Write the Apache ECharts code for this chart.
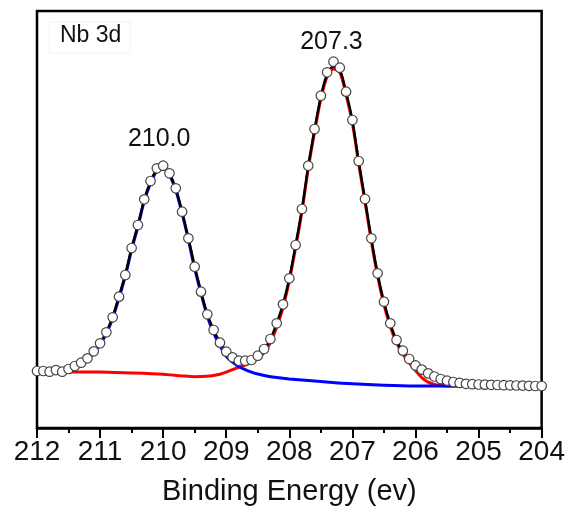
<!DOCTYPE html>
<html>
<head>
<meta charset="utf-8">
<script src="https://cdn.jsdelivr.net/npm/echarts@6/dist/echarts.min.js"></script>
<style>
  html, body { margin: 0; padding: 0; background: #fff; }
  #chart { width: 568px; height: 512px; }
</style>
</head>
<body>
<div id="chart"></div>
<script>
// 测量点 (结合能 eV / 强度)
let energy = [212.0, 211.9, 211.8, 211.7, 211.6, 211.5, 211.4, 211.3, 211.2, 211.1,
    211.0, 210.9, 210.8, 210.7, 210.6, 210.5, 210.4, 210.3, 210.2, 210.1,
    210.0, 209.9, 209.8, 209.7, 209.6, 209.5, 209.4, 209.3, 209.2, 209.1,
    209.0, 208.9, 208.8, 208.7, 208.6, 208.5, 208.4, 208.3, 208.2, 208.1,
    208.0, 207.9, 207.8, 207.7, 207.6, 207.5, 207.4, 207.3, 207.2, 207.1,
    207.0, 206.9, 206.8, 206.7, 206.6, 206.5, 206.4, 206.3, 206.2, 206.1,
    206.0, 205.9, 205.8, 205.7, 205.6, 205.5, 205.4, 205.3, 205.2, 205.1,
    205.0, 204.9, 204.8, 204.7, 204.6, 204.5, 204.4, 204.3, 204.2, 204.1, 204.0]
let intensity = [13.67, 13.67, 13.5, 13.9, 13.5, 14.15, 14.87, 15.66, 16.71, 18.39,
    20.31, 22.95, 26.55, 31.49, 36.69, 43.17, 48.68, 54.84, 59.23, 62.28,
    62.9, 61.08, 57.48, 51.87, 45.49, 38.68, 32.69, 27.27, 23.5, 20.46,
    18.3, 16.95, 16.14, 16.14, 16.31, 17.34, 18.94, 21.34, 25.11, 29.66,
    35.9, 43.88, 52.52, 62.9, 71.7, 79.69, 85.3, 87.84, 86.4, 80.65,
    73.86, 64.03, 54.92, 45.49, 37.1, 30.29, 25.11, 21.1, 18.54, 16.55,
    15.0, 14.0, 13.1, 12.35, 11.75, 11.35, 11.03, 10.8, 10.6, 10.5,
    10.43, 10.4, 10.36, 10.31, 10.26, 10.24, 10.19, 10.17, 10.12, 10.07, 10.07]

// 总拟合曲线 (黑)
let fitEnergy = [211.5, 211.4, 211.3, 211.2, 211.1, 211.0, 210.9, 210.8, 210.7, 210.6,
    210.5, 210.4, 210.3, 210.2, 210.1, 210.0, 209.9, 209.8, 209.7, 209.6,
    209.5, 209.4, 209.3, 209.2, 209.1, 209.0, 208.9, 208.8, 208.7, 208.6,
    208.5, 208.4, 208.3, 208.2, 208.1, 208.0, 207.9, 207.8, 207.7, 207.6,
    207.5, 207.4, 207.3, 207.2, 207.1, 207.0, 206.9, 206.8, 206.7, 206.6,
    206.5, 206.4, 206.3, 206.2, 206.1, 206.0, 205.9, 205.8, 205.7, 205.6,
    205.5, 205.4, 205.3, 205.2, 205.1, 205.0]
let fitTotal = [14.2, 14.9, 15.7, 16.8, 18.5, 20.4, 23.1, 26.7, 31.6, 36.8,
    43.2, 48.7, 54.8, 59.1, 62.0, 62.6, 61.0, 57.4, 51.9, 45.5,
    38.7, 32.7, 27.3, 23.5, 20.6, 18.4, 17.0, 16.2, 16.1, 16.4,
    17.3, 18.9, 21.3, 25.1, 29.7, 35.9, 43.9, 52.5, 62.8, 71.6,
    79.5, 84.9, 86.7, 85.9, 80.5, 73.7, 63.9, 54.8, 45.4, 37.0,
    30.2, 25.0, 21.0, 18.4, 16.5, 15.0, 14.0, 13.1, 12.35, 11.75,
    11.35, 11.03, 10.8, 10.6, 10.5, 10.43]

// 207.3 分峰 (红)
let redEnergy = [211.5, 211.0, 210.5, 210.0, 209.7, 209.5, 209.3, 209.2, 209.1, 209.0,
    208.9, 208.8, 208.7, 208.6, 208.5, 208.4, 208.3, 208.2, 208.1, 208.0,
    207.9, 207.8, 207.7, 207.6, 207.5, 207.4, 207.3, 207.2, 207.1, 207.0,
    206.9, 206.8, 206.7, 206.6, 206.5, 206.4, 206.3, 206.2, 206.1, 206.0,
    205.9, 205.8, 205.7, 205.6, 205.5, 205.4, 205.0]
let redPeak = [13.45, 13.4, 13.2, 12.9, 12.5, 12.3, 12.4, 12.6, 12.9, 13.4,
    14.0, 14.6, 15.1, 15.7, 16.6, 18.1, 20.4, 24.2, 28.9, 35.3,
    43.2, 51.9, 62.2, 71.0, 78.9, 84.3, 86.1, 85.3, 79.9, 73.1,
    63.3, 54.2, 44.8, 36.4, 29.6, 24.4, 20.4, 17.7, 15.6, 13.8,
    12.1, 11.0, 10.45, 10.2, 10.1, 10.07, 10.07]

// 210.0 分峰 (蓝)
let blueEnergy = [211.5, 211.4, 211.3, 211.2, 211.1, 211.0, 210.9, 210.8, 210.7, 210.6,
    210.5, 210.4, 210.3, 210.2, 210.1, 210.0, 209.9, 209.8, 209.7, 209.6,
    209.5, 209.4, 209.3, 209.2, 209.1, 209.0, 208.9, 208.8, 208.7, 208.6,
    208.5, 208.4, 208.2, 208.0, 207.5, 207.0, 206.5, 206.0, 205.0]
let bluePeak = [14.0, 14.7, 15.5, 16.5, 18.1, 20.0, 22.7, 26.3, 31.2, 36.4,
    42.8, 48.3, 54.4, 58.7, 61.6, 62.2, 60.6, 57.0, 51.5, 45.1,
    38.3, 32.3, 26.8, 22.8, 19.7, 17.2, 15.8, 14.7, 14.0, 13.4,
    12.95, 12.6, 12.1, 11.75, 11.15, 10.6, 10.25, 10.07, 10.05]

let peakLabels = ['210.0', '207.3']
let peakPos = [[210.0, 62.9], [207.3, 87.84]]
let xTicks = [212, 211, 210, 209, 208, 207, 206, 205, 204]

function pairs (xs, ys) {
    let out = []
    for (let i = 0; i < xs.length; i++) {
        out.push([xs[i], ys[i]])
    }
    return out
}

let FONT = 'Liberation Sans, Arial, sans-serif'
let myChart = echarts.init(document.getElementById('chart'))

myChart.setOption({
    animation: false,
    backgroundColor: '#fff',
    grid: {
        left: 37, right: 26, top: 11, bottom: 84,
        show: true,
        borderColor: '#000',
        borderWidth: 2.5
    },
    xAxis: {
        type: 'value',
        min: xTicks[xTicks.length - 1],
        max: xTicks[0],
        interval: 1,
        inverse: true,
        name: 'Binding Energy (ev)',
        nameLocation: 'middle',
        nameGap: 49,
        nameTextStyle: { fontSize: 29, color: '#111', fontFamily: FONT },
        axisLine: { show: true, lineStyle: { color: '#000', width: 2.5 } },
        axisTick: { show: true, inside: false, length: 10, lineStyle: { color: '#000', width: 2 } },
        minorTick: { show: true, splitNumber: 2, length: 5, lineStyle: { color: '#000', width: 2 } },
        axisLabel: { fontSize: 28, color: '#111', fontFamily: FONT, margin: 10 },
        splitLine: { show: false }
    },
    yAxis: {
        type: 'value',
        min: 0,
        max: 100,
        show: false,
        splitLine: { show: false }
    },
    graphic: [
        {
            type: 'rect',
            shape: { x: 49, y: 22, width: 81, height: 31 },
            style: { fill: 'none', stroke: '#f3f3f3', lineWidth: 1 }
        },
        {
            type: 'text',
            left: 60, top: 24,
            style: { text: 'Nb 3d', fontSize: 23, fontFamily: FONT, fill: '#111' }
        }
    ],
    series: [
        {
            type: 'line',
            data: pairs(redEnergy, redPeak),
            smooth: 0.3,
            symbol: 'none',
            lineStyle: { color: '#ff0000', width: 3 },
            z: 2
        },
        {
            type: 'line',
            data: pairs(blueEnergy, bluePeak),
            smooth: 0.3,
            symbol: 'none',
            lineStyle: { color: '#0000ff', width: 3 },
            z: 2
        },
        {
            type: 'line',
            data: pairs(fitEnergy, fitTotal),
            smooth: 0.3,
            symbol: 'none',
            lineStyle: { color: '#000', width: 2.5 },
            z: 3
        },
        {
            type: 'scatter',
            data: pairs(energy, intensity),
            symbol: 'circle',
            symbolSize: 9.5,
            itemStyle: { color: '#fff', borderColor: '#444', borderWidth: 1.2, opacity: 1 },
            z: 5,
            markPoint: {
                symbol: 'circle',
                symbolSize: 0,
                data: [
                    { name: peakLabels[0], coord: peakPos[0], label: { offset: [-4, -27] } },
                    { name: peakLabels[1], coord: peakPos[1], label: { offset: [-2, -20] } }
                ],
                label: {
                    show: true,
                    position: 'inside',
                    formatter: '{b}',
                    fontSize: 25,
                    color: '#111',
                    fontFamily: FONT
                }
            }
        }
    ]
})
</script>
</body>
</html>
